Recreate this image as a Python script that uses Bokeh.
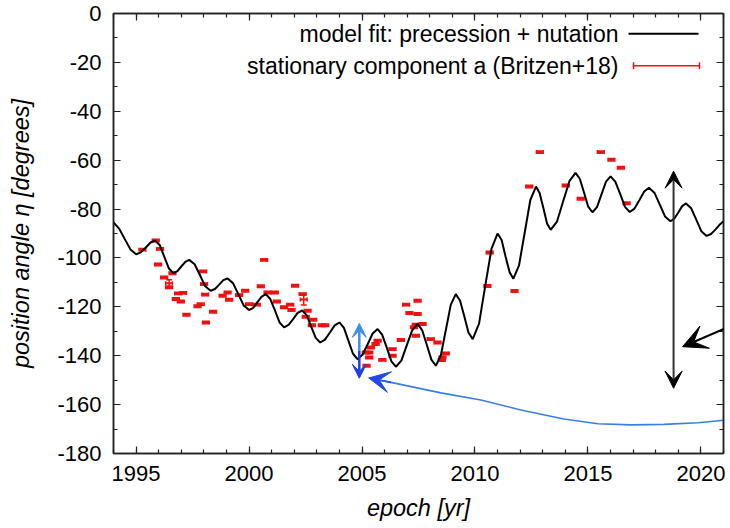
import numpy as np
from bokeh.plotting import figure
from bokeh.models import (Range1d, LinearAxis, SingleIntervalTicker, Label, Arrow,
                          VeeHead, TeeHead, Whisker, ColumnDataSource, PrintfTickFormatter)
from bokeh.embed import file_html
from bokeh.resources import INLINE

# ---------------- data ----------------
# model fit: precession + nutation
model_year = [1994.0, 1994.25, 1994.5, 1994.75, 1995.0,
              1995.21, 1995.43, 1995.64, 1995.85,
              1996.05, 1996.25, 1996.45, 1996.65,
              1996.83, 1997.0, 1997.18, 1997.35,
              1997.59, 1997.83, 1998.06, 1998.3,
              1998.49, 1998.68, 1998.86, 1999.05,
              1999.29, 1999.53, 1999.76, 2000.0,
              2000.19, 2000.37, 2000.56, 2000.74,
              2000.94, 2001.15, 2001.35, 2001.55,
              2001.75, 2001.95, 2002.15, 2002.35,
              2002.55, 2002.75, 2002.95, 2003.15,
              2003.36, 2003.58, 2003.79, 2004.0,
              2004.2, 2004.4, 2004.6, 2004.8,
              2005.02, 2005.25, 2005.47, 2005.69,
              2005.89, 2006.1, 2006.3, 2006.5,
              2006.74, 2006.98, 2007.22, 2007.46,
              2007.66, 2007.87, 2008.07, 2008.27,
              2008.49, 2008.71, 2008.93, 2009.15,
              2009.34, 2009.53, 2009.71, 2009.9,
              2010.18, 2010.45, 2010.73, 2011.0,
              2011.18, 2011.35, 2011.53, 2011.7,
              2011.95, 2012.2, 2012.45, 2012.7,
              2012.86, 2013.03, 2013.19, 2013.35,
              2013.63, 2013.9, 2014.18, 2014.45,
              2014.64, 2014.83, 2015.01, 2015.2,
              2015.4, 2015.6, 2015.8, 2016.0,
              2016.21, 2016.43, 2016.64, 2016.85,
              2017.06, 2017.28, 2017.49, 2017.7,
              2017.94, 2018.18, 2018.41, 2018.65,
              2018.82, 2019.0, 2019.17, 2019.34,
              2019.57, 2019.8, 2020.02, 2020.25,
              2020.45, 2020.65, 2020.85, 2021.0]
model_pa = [-85.5, -88.0, -92.3, -96.5, -98.5,
            -97.7, -95.7, -93.7, -92.9,
            -94.8, -99.6, -104.3, -106.2,
            -105.4, -103.5, -101.6, -100.8,
            -102.6, -107.1, -111.6, -113.4,
            -112.7, -110.9, -109.1, -108.4,
            -110.3, -114.9, -119.4, -121.3,
            -120.4, -118.1, -115.8, -114.8,
            -116.8, -121.6, -126.4, -128.4,
            -127.4, -125.0, -122.5, -121.5,
            -123.4, -128.1, -132.7, -134.6,
            -133.4, -130.5, -127.6, -126.4,
            -128.6, -133.9, -139.2, -141.4,
            -139.6, -135.3, -130.9, -129.1,
            -131.4, -136.8, -142.3, -144.5,
            -142.0, -135.8, -129.6, -127.0,
            -129.5, -135.6, -141.6, -144.1,
            -139.8, -129.5, -119.1, -114.8,
            -117.5, -124.0, -130.5, -133.2,
            -126.9, -111.6, -96.3, -90.0,
            -92.7, -99.3, -105.8, -108.5,
            -103.0, -89.7, -76.3, -70.8,
            -73.4, -79.7, -85.9, -88.5,
            -85.1, -76.9, -68.6, -65.2,
            -67.6, -73.3, -79.0, -81.3,
            -79.2, -74.0, -68.8, -66.6,
            -68.8, -73.9, -79.1, -81.2,
            -79.8, -76.3, -72.8, -71.3,
            -73.3, -78.2, -83.0, -85.0,
            -83.9, -81.4, -78.8, -77.7,
            -79.7, -84.4, -89.1, -91.0,
            -90.2, -88.3, -86.2, -85.0]

# stationary component a (Britzen+18)
obs_year = [1995.28, 1995.87, 1996.06, 1995.97, 1996.24, 1996.46, 1996.61, 1996.46, 1996.86, 1997.08,
            1996.76, 1996.98, 1997.23, 1997.72, 1997.86, 1998.09, 1998.41, 1997.97, 1998.01, 1998.06,
            1998.83, 1999.05, 1999.12, 1999.83, 1999.56, 2000.0, 2000.34, 2000.67, 2000.52, 2000.82,
            2001.14, 2001.23, 2001.55, 2001.82, 2001.88, 2002.04, 2002.37, 2002.42, 2002.59, 2002.51,
            2002.84, 2002.78, 2003.22, 2003.37,
            2005.69, 2005.6, 2005.39, 2005.32, 2005.32, 2005.17, 2005.2, 2005.9, 2006.35, 2006.35,
            2006.72, 2006.95, 2007.46, 2007.1, 2007.46, 2007.38, 2007.68, 2007.3, 2007.38, 2008.04,
            2008.34, 2008.71, 2008.56, 2008.53,
            2010.55, 2010.65, 2011.75, 2012.4, 2012.87, 2014.02, 2014.68, 2015.57, 2016.04, 2016.46,
            2016.71]
obs_pa = [-96.6, -92.9, -96.3, -102.7, -108.0, -110.4, -106.3, -112.0, -114.5, -114.3,
          -116.8, -117.8, -123.2, -119.8, -118.9, -126.4, -122.0, -105.5, -110.7, -115.0,
          -115.5, -114.1, -117.1, -113.4, -115.2, -118.9, -119.1, -100.8, -111.6, -114.1,
          -114.1, -117.8, -120.2, -119.1, -121.3, -111.4, -114.8, -117.0, -121.6, -124.1,
          -125.3, -127.5, -127.5, -127.5,
          -133.9, -135.2, -136.6, -138.7, -140.7, -138.7, -144.1, -141.7, -137.3, -140.0,
          -133.6, -119.1, -117.5, -122.5, -122.9, -127.3, -127.0, -128.4, -131.8, -133.2,
          -134.6, -139.1, -140.7, -141.8,
          -111.5, -97.8, -113.5, -70.8, -56.7, -70.4, -75.8, -56.7, -59.8, -63.1,
          -77.6]
obs_xerr = [0.15] * len(obs_year)
obs_yerr = [0.5, 0.5, 0.5, 0.5, 0.5, 1.5, 0.5, 0.5, 0.5, 0.5,
            0.5, 0.5, 0.5, 0.5, 0.5, 0.5, 0.5, 0.5, 0.5, 0.5,
            0.5, 0.5, 0.5, 0.5, 0.5, 0.5, 0.5, 0.5, 0.5, 0.5,
            0.5, 0.5, 0.5, 0.5, 0.5, 0.5, 0.5, 2.3, 0.5, 0.5,
            0.5, 0.5, 0.5, 0.5,
            0.5, 0.5, 0.5, 0.5, 0.5, 0.5, 0.5, 0.5, 0.5, 0.5,
            0.5, 0.5, 0.5, 0.5, 0.5, 0.5, 0.5, 0.5, 0.5, 0.5,
            0.5, 0.5, 0.5, 0.5,
            0.5, 0.5, 0.5, 0.5, 0.5, 0.5, 0.5, 0.5, 0.5, 0.5,
            0.5]

# blue curved pointer track
track_year = [2005.30, 2006.28, 2008.49, 2010.26, 2012.03, 2013.93, 2015.44, 2016.9, 2018.36, 2019.87, 2021.33]
track_pa = [-149.1, -150.9, -155.2, -158.1, -162.2, -165.9, -167.8, -168.3, -168.1, -167.4, -166.1]

x_ticks_interval = 5
y_ticks_interval = 20

FONT = "Liberation Sans"
FS_TICK = "22px"
FS_TITLE = "23.5px"
FS_LEG = "23px"
RED = "#ee1111"

# ---------------- figure ----------------
p = figure(width=730, height=528, output_backend="svg", toolbar_location=None,
           x_range=Range1d(1994, 2021), y_range=Range1d(-180, 0),
           min_border_left=113, min_border_right=7, min_border_top=13, min_border_bottom=75,
           background_fill_color="white", border_fill_color="white")
p.grid.visible = False
p.outline_line_color = "#222222"
p.outline_line_width = 1.5


def style_axis(ax, show_labels=True):
    ax.axis_line_color = "#222222"
    ax.axis_line_width = 1.5
    ax.major_tick_in = 7
    ax.major_tick_out = 0
    ax.minor_tick_in = 4
    ax.minor_tick_out = 0
    ax.major_tick_line_color = "#222222"
    ax.minor_tick_line_color = "#222222"
    ax.major_tick_line_width = 1.2
    ax.minor_tick_line_width = 1.2
    if show_labels:
        ax.major_label_text_font = FONT
        ax.major_label_text_font_size = FS_TICK
        ax.major_label_text_color = "black"
        ax.axis_label_text_font = FONT
        ax.axis_label_text_font_size = FS_TITLE
        ax.axis_label_text_font_style = "italic"
        ax.axis_label_text_color = "black"
    else:
        ax.major_label_text_color = None
        ax.major_label_standoff = 0


xt = SingleIntervalTicker(interval=x_ticks_interval, num_minor_ticks=5)
yt = SingleIntervalTicker(interval=y_ticks_interval, num_minor_ticks=2)
p.xaxis[0].ticker = xt
p.yaxis[0].ticker = yt
p.yaxis[0].formatter = PrintfTickFormatter(format="%d")
style_axis(p.xaxis[0])
style_axis(p.yaxis[0])
p.xaxis[0].major_label_standoff = 12
p.yaxis[0].major_label_standoff = 12
p.xaxis[0].axis_label = "epoch [yr]"
p.yaxis[0].axis_label = "position angle \u03b7 [degrees]"
p.xaxis[0].axis_label_standoff = 11
p.yaxis[0].axis_label_standoff = 20

top = LinearAxis(ticker=SingleIntervalTicker(interval=x_ticks_interval, num_minor_ticks=5))
right = LinearAxis(ticker=SingleIntervalTicker(interval=y_ticks_interval, num_minor_ticks=2))
style_axis(top, False)
style_axis(right, False)
p.add_layout(top, "above")
p.add_layout(right, "right")

# model curve
p.line(model_year, model_pa, line_color="black", line_width=2)

# observations with error bars
obs_year_a = np.array(obs_year)
obs_pa_a = np.array(obs_pa)
src = ColumnDataSource(dict(
    x=obs_year_a, y=obs_pa_a,
    xl=obs_year_a - np.array(obs_xerr), xu=obs_year_a + np.array(obs_xerr),
    yl=obs_pa_a - np.array(obs_yerr), yu=obs_pa_a + np.array(obs_yerr)))
p.add_layout(Whisker(source=src, base="y", lower="xl", upper="xu", dimension="width",
                     line_color=RED, line_width=2,
                     lower_head=TeeHead(size=4, line_color=RED, line_width=1.5),
                     upper_head=TeeHead(size=4, line_color=RED, line_width=1.5)))
p.add_layout(Whisker(source=src, base="x", lower="yl", upper="yu", dimension="height",
                     line_color=RED, line_width=1.5,
                     lower_head=TeeHead(size=6, line_color=RED, line_width=1.5),
                     upper_head=TeeHead(size=6, line_color=RED, line_width=1.5)))

# blue curved pointer
p.line(track_year, track_pa, line_color="#3a7fde", line_width=1.6)
p.add_layout(Arrow(x_start=track_year[1], y_start=track_pa[1], x_end=track_year[0], y_end=track_pa[0],
                   line_color="#2a55e6", line_width=1.6,
                   end=VeeHead(size=21, fill_color="#2048e8", line_color="#2048e8")))

# blue double arrow at 2005
p.add_layout(Arrow(x_start=2004.88, y_start=-138.0, x_end=2004.88, y_end=-126.8,
                   line_color="#3f8fe4", line_width=2.5,
                   end=VeeHead(size=14, fill_color="#3f8fe4", line_color="#3f8fe4")))
p.add_layout(Arrow(x_start=2004.88, y_start=-138.0, x_end=2004.88, y_end=-149.2,
                   line_color="#1e3ee8", line_width=2.5,
                   end=VeeHead(size=14, fill_color="#1e3ee8", line_color="#1e3ee8")))

# black double arrow
p.add_layout(Arrow(x_start=2018.79, y_start=-153.3, x_end=2018.79, y_end=-64.5,
                   line_color="#333333", line_width=2,
                   start=VeeHead(size=17, fill_color="black", line_color="black"),
                   end=VeeHead(size=17, fill_color="black", line_color="black")))

# black pointer from the right
p.add_layout(Arrow(x_start=2021.35, y_start=-127.7, x_end=2019.19, y_end=-136.3,
                   line_color="black", line_width=2.2,
                   end=VeeHead(size=24, fill_color="black", line_color="black")))

# ---------------- legend (screen units relative to frame) ----------------
p.add_layout(Label(x=505, y=419.7, x_units="screen", y_units="screen",
                   text="model fit: precession + nutation", text_align="right",
                   text_baseline="middle", text_font=FONT, text_font_size=FS_LEG, text_color="black"))
p.add_layout(Arrow(x_start=515, y_start=419.7, x_end=585, y_end=419.7,
                   start_units="screen", end_units="screen",
                   line_color="black", line_width=2, end=None))
p.add_layout(Label(x=505, y=387.7, x_units="screen", y_units="screen",
                   text="stationary component a (Britzen+18)", text_align="right",
                   text_baseline="middle", text_font=FONT, text_font_size=FS_LEG, text_color="black"))
p.add_layout(Arrow(x_start=520, y_start=387.7, x_end=586, y_end=387.7,
                   start_units="screen", end_units="screen",
                   line_color=RED, line_width=1.5,
                   start=TeeHead(size=7, line_color=RED, line_width=1.5),
                   end=TeeHead(size=7, line_color=RED, line_width=1.5)))

open("out.html", "w").write(file_html(p, INLINE))
